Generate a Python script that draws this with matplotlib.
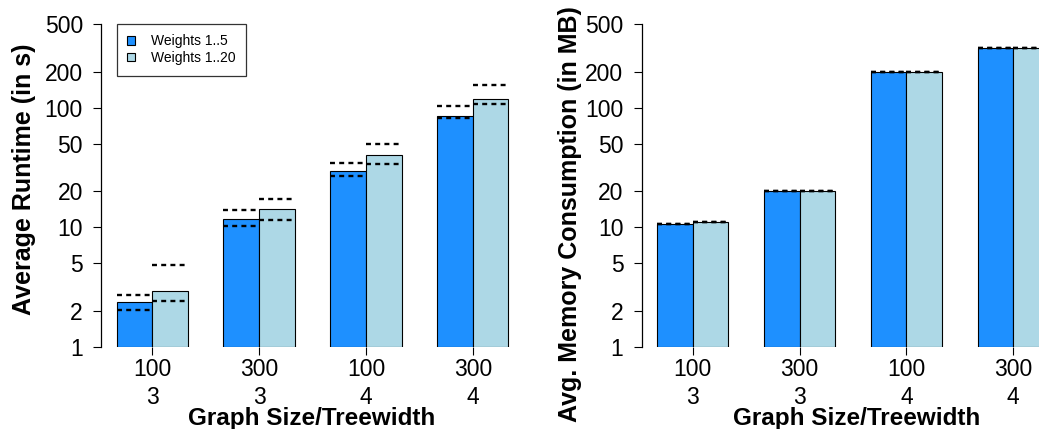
import matplotlib
matplotlib.use('Agg')
import matplotlib.pyplot as plt
import numpy as np

plt.rcParams['font.family'] = ['Liberation Sans', 'DejaVu Sans']

groups = ['100\n3', '300\n3', '100\n4', '300\n4']
series = ['Weights 1..5', 'Weights 1..20']
colors = ['#1E90FF', '#ADD8E6']

# average runtime in seconds, with lower/upper dashed markers
runtime = [[2.36, 11.7, 29.7, 85.6],
           [2.90, 14.3, 40.4, 118.0]]
runtime_lo = [[2.04, 10.3, 26.7, 81.8],
              [2.39, 11.5, 33.8, 106.6]]
runtime_hi = [[2.72, 14.0, 34.5, 103.7],
              [4.78, 17.2, 49.9, 154.5]]

# average memory consumption in MB
memory = [[10.7, 19.9, 199.0, 315.0],
          [11.1, 19.9, 199.0, 315.0]]
memory_lo = [[10.7, 19.9, 199.0, 315.0],
             [11.1, 19.9, 199.0, 315.0]]
memory_hi = [[10.7, 19.9, 199.0, 315.0],
             [11.1, 19.9, 199.0, 315.0]]

yticks = [1, 2, 5, 10, 20, 50, 100, 200, 500]

W, H = 1039, 429
fig = plt.figure(figsize=(W / 100, H / 100), dpi=100)


def bar_panel(ax, means, lo, hi):
    n = len(groups)
    for s in range(len(series)):
        lefts = np.arange(n) * 3 + 1 + s
        ax.bar(lefts, np.array(means[s]) - 1, bottom=1, width=1, align='edge',
               color=colors[s], edgecolor='black', linewidth=0.8, label=series[s])
        for i in range(n):
            for v in (lo[s][i], hi[s][i]):
                ax.plot([lefts[i], lefts[i] + 1], [v, v], color='black', lw=1.7,
                        linestyle=(0, (2.1, 1.8)), dash_capstyle='butt')
    ax.set_yscale('log')
    ax.set_ylim(1, 500)
    ax.set_xlim(0.56, 12.44)
    ax.set_yticks(yticks)
    ax.set_yticklabels([str(t) for t in yticks])
    ax.minorticks_off()
    ax.set_xticks(np.arange(n) * 3 + 2)
    ax.set_xticklabels(groups, linespacing=1.3)
    for side in ('top', 'right', 'bottom'):
        ax.spines[side].set_visible(False)
    ax.spines['left'].set_linewidth(0.9)
    ax.tick_params(axis='both', length=6, width=0.8, labelsize=16.5, colors='black')
    ax.tick_params(axis='y', pad=7)
    ax.tick_params(axis='x', pad=2)


ax1 = fig.add_axes([101 / W, 82.3 / H, 423 / W, 322.7 / H])
bar_panel(ax1, runtime, runtime_lo, runtime_hi)
leg = ax1.legend(loc='upper left', bbox_to_anchor=(116.7 / W, 405 / H), bbox_transform=fig.transFigure,
                 fontsize=10, frameon=True, fancybox=False, borderpad=0.75, labelspacing=0.2,
                 handlelength=0.55, handleheight=0.55, handletextpad=1.2, borderaxespad=0)
leg.get_frame().set_edgecolor('black')
leg.get_frame().set_linewidth(0.9)

ax2 = fig.add_axes([641.5 / W, 82.3 / H, 423 / W, 322.7 / H])
bar_panel(ax2, memory, memory_lo, memory_hi)

fig.text(24 / W, 1 - 179 / H, 'Average Runtime (in s)', rotation=90, ha='center', va='center',
         fontsize=18, fontweight='bold')
fig.text(570 / W, 1 - 214 / H, 'Avg. Memory Consumption (in MB)', rotation=90, ha='center', va='center',
         fontsize=18, fontweight='bold')
fig.text(312 / W, 1 - 418 / H, 'Graph Size/Treewidth', ha='center', va='center',
         fontsize=17.5, fontweight='bold')
fig.text(857 / W, 1 - 418 / H, 'Graph Size/Treewidth', ha='center', va='center',
         fontsize=17.5, fontweight='bold')

fig.savefig('out.png', dpi=100)
